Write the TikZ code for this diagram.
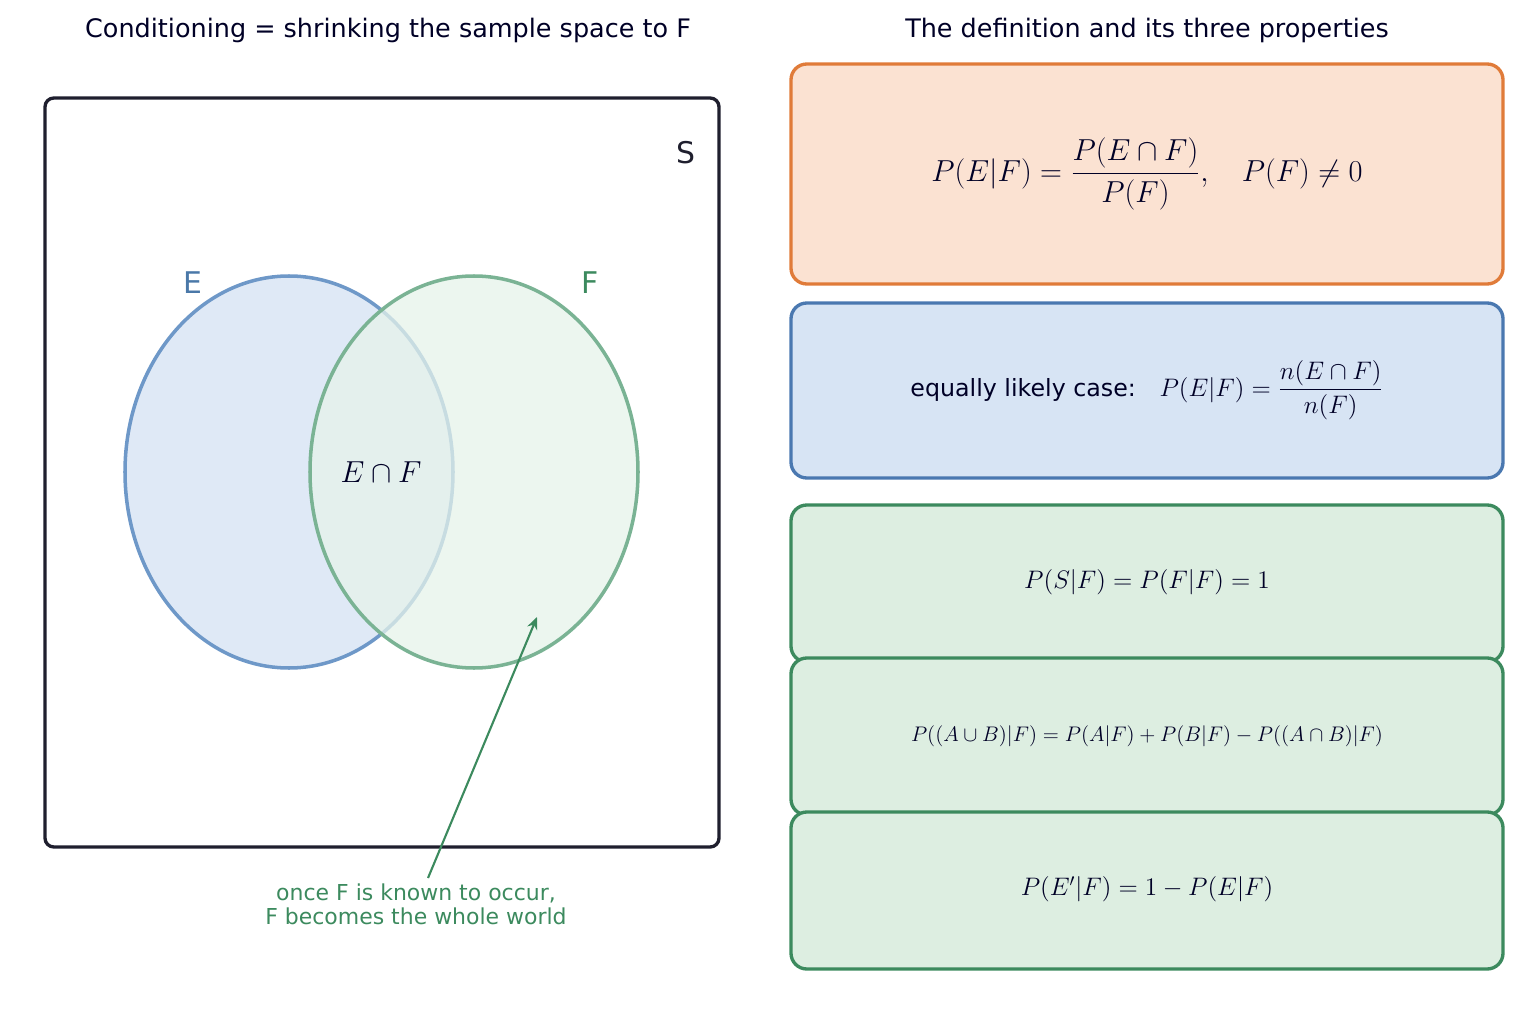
\documentclass[tikz,border=0pt]{standalone}
\usepackage{fontspec}
\setmainfont{DejaVu Sans}
\usepackage{amsmath}
\usetikzlibrary{arrows.meta}
\begin{document}
\begin{tikzpicture}[x=0.02cm,y=-0.02cm,
  ink/.style={text=black!85!blue},
  box/.style={rounded corners=9pt,line width=1.9pt},
  ttl/.style={font=\fontsize{14.5}{17}\selectfont,text=black!85!blue},
  lbl/.style={font=\fontsize{17}{19}\selectfont}]
\definecolor{dk}{HTML}{1F1F2E}
\definecolor{bstroke}{HTML}{6E98C8}
\definecolor{bfill}{HTML}{DFE9F6}
\definecolor{gstroke}{HTML}{7AB394}
\definecolor{gfill}{HTML}{E6F3EA}
\definecolor{gdark}{HTML}{3C8A5E}
\definecolor{blab}{HTML}{4A78A8}
\definecolor{ostroke}{HTML}{E07B39}
\definecolor{ofill}{HTML}{FBE2D2}
\definecolor{b2stroke}{HTML}{4A78B0}
\definecolor{b2fill}{HTML}{D7E4F4}
\definecolor{g2fill}{HTML}{DDEEE1}
\useasboundingbox (0,0) rectangle (1536,1024);
\node[ttl] (t1) at (388,30) {Conditioning = shrinking the sample space to F};
\node[ttl] (t2) at (1147,30) {The definition and its three properties};
\draw[dk,line width=1.9pt,rounded corners=5pt] (45,98) rectangle (719,847);
\node[lbl,text=dk] (S) at (686,153) {S};
\fill[bfill] (289,472) ellipse [x radius=164,y radius=196];
\draw[bstroke,line width=2pt] (289,472) ellipse [x radius=164,y radius=196];
\fill[gfill,opacity=0.75] (474,472) ellipse [x radius=164,y radius=196];
\draw[gstroke,line width=2pt] (474,472) ellipse [x radius=164,y radius=196];
\node[lbl,text=blab] (E) at (193,283) {E};
\node[lbl,text=gdark] (F) at (590,283) {F};
\node[font=\fontsize{16}{18}\selectfont,ink] (EF) at (381,472) {$E\cap F$};
\node[text=gdark,font=\fontsize{12.5}{13.5}\selectfont,align=center] (note) at (416,904) {once F is known to occur,\\F becomes the whole world};
\coordinate (tip) at (537,617);
\draw[gdark,line width=1.2pt,-{Stealth[length=7pt,width=6pt]}] (428,878) -- (tip);
\draw[box,draw=ostroke,fill=ofill] (791,64) rectangle (1503,284);
\draw[box,draw=b2stroke,fill=b2fill] (791,303) rectangle (1503,478);
\draw[box,draw=gdark,fill=g2fill] (791,505) rectangle (1503,662);
\draw[box,draw=gdark,fill=g2fill] (791,658) rectangle (1503,815);
\draw[box,draw=gdark,fill=g2fill] (791,812) rectangle (1503,969);
\node[ink,font=\fontsize{16}{18}\selectfont] (d1) at (1147,174) {$P(E|F)=\dfrac{P(E\cap F)}{P(F)},\quad P(F)\neq 0$};
\node[ink,font=\fontsize{13.5}{15}\selectfont] (d2) at (1147,390) {equally likely case:\quad $P(E|F)=\dfrac{n(E\cap F)}{n(F)}$};
\node[ink,font=\fontsize{14}{16}\selectfont] (d3) at (1147,582) {$P(S|F)=P(F|F)=1$};
\node[ink,font=\fontsize{11.5}{13}\selectfont] (d4) at (1147,736) {$P((A\cup B)|F)=P(A|F)+P(B|F)-P((A\cap B)|F)$};
\node[ink,font=\fontsize{14}{16}\selectfont] (d5) at (1147,889) {$P(E'|F)=1-P(E|F)$};
\end{tikzpicture}
\end{document}
